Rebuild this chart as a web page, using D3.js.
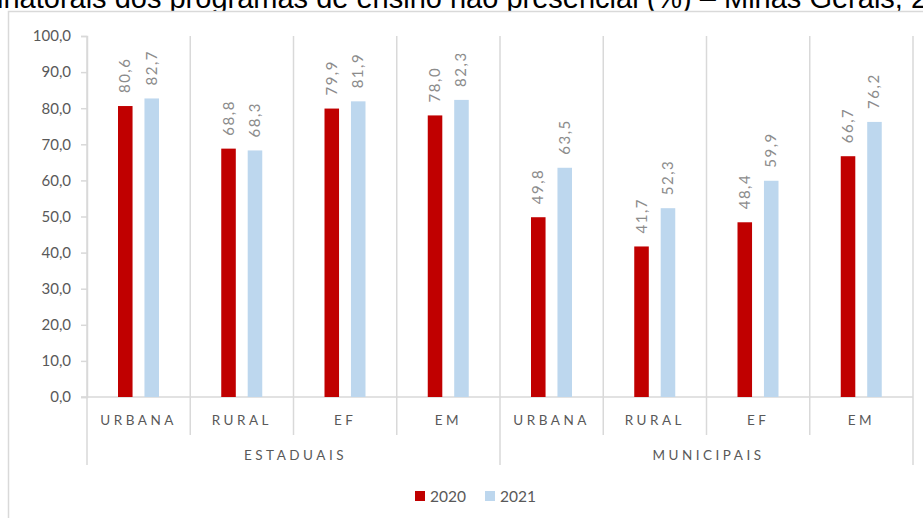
<!DOCTYPE html>
<html>
<head>
<meta charset="utf-8">
<script src="https://cdn.jsdelivr.net/npm/d3@7"></script>
<style>
  body { margin: 0; background: #fff; }
  svg { display: block; font-family: Lato, "Open Sans", sans-serif; }
</style>
</head>
<body>
<div id="chart"></div>
<script>
const groups = ["ESTADUAIS", "MUNICIPAIS"];
const categories = ["URBANA", "RURAL", "EF", "EM"];
const seriesNames = ["2020", "2021"];
const values2020 = [80.6, 68.8, 79.9, 78.0, 49.8, 41.7, 48.4, 66.7];
const values2021 = [82.7, 68.3, 81.9, 82.3, 63.5, 52.3, 59.9, 76.2];
const yTicks = [0, 10, 20, 30, 40, 50, 60, 70, 80, 90, 100];
const colors = ["#c00000", "#bdd7ee"];

const W = 923, H = 518;
const fmt = v => v.toFixed(1).replace(".", ",");

const svg = d3.select("#chart").append("svg")
    .attr("width", W).attr("height", H);

// Title (cut off at top, as in the source)
svg.append("text")
    .attr("x", -3).attr("y", 8)
    .attr("font-family", "'Liberation Sans', Arial, sans-serif")
    .attr("font-size", 29).attr("fill", "#000")
    .text("inatorais dos programas de ensino não presencial (%) – Minas Gerais, 2020-2021");

// Chart area covers the title's descenders
svg.append("rect")
    .attr("x", 8.5).attr("y", 11.5).attr("width", W).attr("height", H)
    .attr("fill", "#fff");
svg.append("path")
    .attr("d", `M8.5,${H} V11.5 H${W}`)
    .attr("fill", "none").attr("stroke", "#d9d9d9").attr("stroke-width", 1.5);

// Flattened cells
const cells = [];
groups.forEach((g, gi) => categories.forEach((c, ci) => {
    const i = gi * categories.length + ci;
    cells.push({ key: g + "-" + c, group: g, cat: c, v: [values2020[i], values2021[i]] });
}));

const x = d3.scaleBand().domain(cells.map(d => d.key)).range([87, 913]);
const inner = d3.scaleBand().domain(seriesNames).range([31, 72]).paddingInner(0.45);
const y = d3.scaleLinear().domain([0, 100]).range([397, 36]);

// Y axis
const yAxis = svg.append("g").attr("transform", "translate(87,0)")
    .call(d3.axisLeft(y).tickValues(yTicks).tickFormat(fmt).tickSize(6).tickPadding(10));
yAxis.select(".domain").attr("stroke", "#d9d9d9").attr("stroke-width", 1.5);
yAxis.selectAll(".tick line").attr("stroke", "#d9d9d9").attr("stroke-width", 1.5);
yAxis.selectAll("text").attr("font-size", 15).attr("fill", "#595959")
    .attr("font-family", "Lato, sans-serif");

// Vertical separators
const bounds = cells.map(d => x(d.key)).concat([913]);
svg.append("g").selectAll("line").data(bounds).join("line")
    .attr("x1", d => d).attr("x2", d => d)
    .attr("y1", 36)
    .attr("y2", (d, i) => (i % categories.length === 0) ? 465 : 435)
    .attr("stroke", "#d9d9d9").attr("stroke-width", 1.5);

// Baseline
svg.append("line")
    .attr("x1", 81).attr("x2", 913).attr("y1", y(0)).attr("y2", y(0))
    .attr("stroke", "#d9d9d9").attr("stroke-width", 1.5);

// Bars
const cellG = svg.append("g").selectAll("g").data(cells).join("g")
    .attr("transform", d => `translate(${x(d.key)},0)`);

const bars = cellG.selectAll("g.bar")
    .data(d => seriesNames.map((s, si) => ({ s, si, v: d.v[si] })))
    .join("g").attr("class", "bar");

bars.append("rect")
    .attr("x", d => inner(d.s))
    .attr("width", inner.bandwidth())
    .attr("y", d => y(d.v))
    .attr("height", d => y(0) - y(d.v))
    .attr("fill", d => colors[d.si]);

bars.append("text")
    .attr("transform", d => `translate(${inner(d.s) + inner.bandwidth() / 2 + 5},${y(d.v) - 13}) rotate(-90)`)
    .attr("font-size", 15).attr("fill", "#8c8c8c")
    .attr("letter-spacing", 1.5)
    .text(d => fmt(d.v));

// Category labels
cellG.append("text")
    .attr("x", x.bandwidth() / 2).attr("y", 425)
    .attr("text-anchor", "middle")
    .attr("font-size", 13.5).attr("fill", "#595959")
    .attr("letter-spacing", 3.5)
    .text(d => d.cat);

// Group labels
svg.append("g").selectAll("text").data(groups).join("text")
    .attr("x", (g, gi) => (x(g + "-" + categories[0]) + x(g + "-" + categories[categories.length - 1]) + x.bandwidth()) / 2 + 2)
    .attr("y", 460)
    .attr("text-anchor", "middle")
    .attr("font-size", 13.5).attr("fill", "#595959")
    .attr("letter-spacing", 3.5)
    .text(d => d);

// Legend
const legend = svg.append("g").attr("transform", "translate(415,491)");
const li = legend.selectAll("g").data(seriesNames).join("g")
    .attr("transform", (d, i) => `translate(${i * 70},0)`);
li.append("rect").attr("width", 10).attr("height", 10).attr("fill", (d, i) => colors[i]);
li.append("text").attr("x", 15).attr("y", 10.5)
    .attr("font-size", 15.5).attr("fill", "#595959").text(d => d);
</script>
</body>
</html>
